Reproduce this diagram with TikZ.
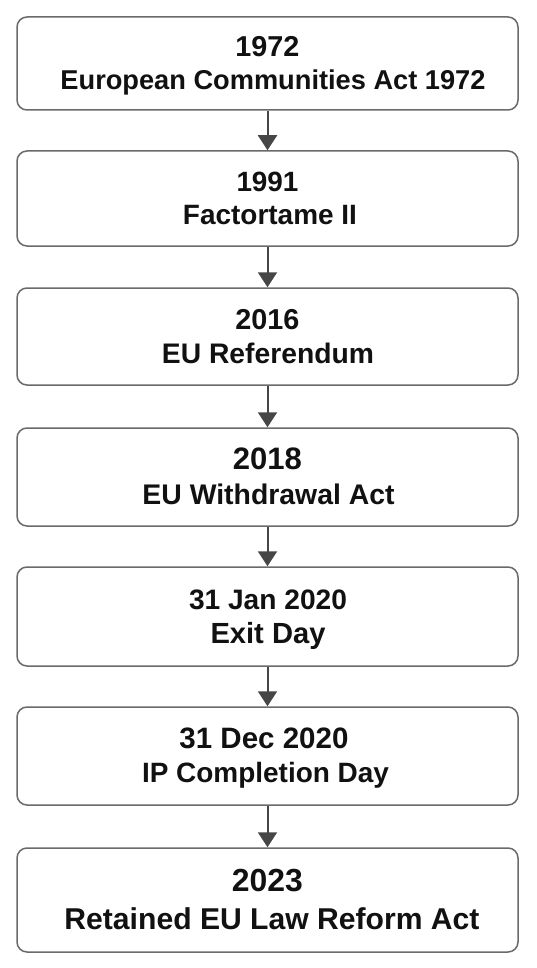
\documentclass[tikz,border=0pt]{standalone}
\usepackage{fontspec}
\setmainfont{Liberation Sans}
\usepackage{graphicx}
\usetikzlibrary{arrows.meta}
\definecolor{boxgray}{HTML}{6A6A6A}
\definecolor{arrgray}{HTML}{464646}
\definecolor{txt}{HTML}{111111}
\newcommand{\fitline}[2]{\resizebox{#1pt}{!}{\bfseries #2}}
\tikzset{
  stepbox/.style={draw=boxgray, line width=1.5pt, rounded corners=10pt,
    minimum width=501pt, inner sep=0pt, fill=white},
  lbl/.style={anchor=base, inner sep=0pt, text=txt},
  arr/.style={draw=arrgray, line width=2pt,
    -{Triangle[length=15pt,width=19pt]}}
}
\begin{document}
\begin{tikzpicture}[x=1pt,y=-1pt]
\useasboundingbox (0,0) rectangle (536,968);
\fill[white] (0,0) rectangle (536,968);
% boxes
\node[stepbox, minimum height=93pt] (b1) at (267.5,63.5) {};
\node[stepbox, minimum height=95pt] (b2) at (267.5,198.5) {};
\node[stepbox, minimum height=97pt] (b3) at (267.5,336.5) {};
\node[stepbox, minimum height=98pt] (b4) at (267.5,477) {};
\node[stepbox, minimum height=99pt] (b5) at (267.5,616.5) {};
\node[stepbox, minimum height=98pt] (b6) at (267.5,756) {};
\node[stepbox, minimum height=104pt] (b7) at (267.5,900) {};
% texts
\node[lbl] (y1) at (267.5,57) {\fitline{64}{1972}};
\node[lbl] (t1) at (273,90) {\fitline{425}{European Communities Act 1972}};
\node[lbl] (y2) at (267.5,192) {\fitline{62}{1991}};
\node[lbl] (t2) at (270,225) {\fitline{174}{Factortame II}};
\node[lbl] (y3) at (267.5,329) {\fitline{64}{2016}};
\node[lbl] (t3) at (268,363) {\fitline{212}{EU Referendum}};
\node[lbl] (y4) at (267.5,469) {\fitline{69}{2018}};
\node[lbl] (t4) at (268.5,504) {\fitline{252}{EU Withdrawal Act}};
\node[lbl] (y5) at (268,609) {\fitline{158}{31 Jan 2020}};
\node[lbl] (t5) at (268,643) {\fitline{115}{Exit Day}};
\node[lbl] (y6) at (264,748) {\fitline{169}{31 Dec 2020}};
\node[lbl] (t6) at (265.5,782) {\fitline{247}{IP Completion Day}};
\node[lbl] (y7) at (267.5,891) {\fitline{71}{2023}};
\node[lbl] (t7) at (272,929) {\fitline{415}{Retained EU Law Reform Act}};
% arrows
\draw[arr] (b1.south) -- (b2.north);
\draw[arr] (b2.south) -- (b3.north);
\draw[arr] (b3.south) -- (b4.north);
\draw[arr] (b4.south) -- (b5.north);
\draw[arr] (b5.south) -- (b6.north);
\draw[arr] (b6.south) -- (b7.north);
\end{tikzpicture}
\end{document}
